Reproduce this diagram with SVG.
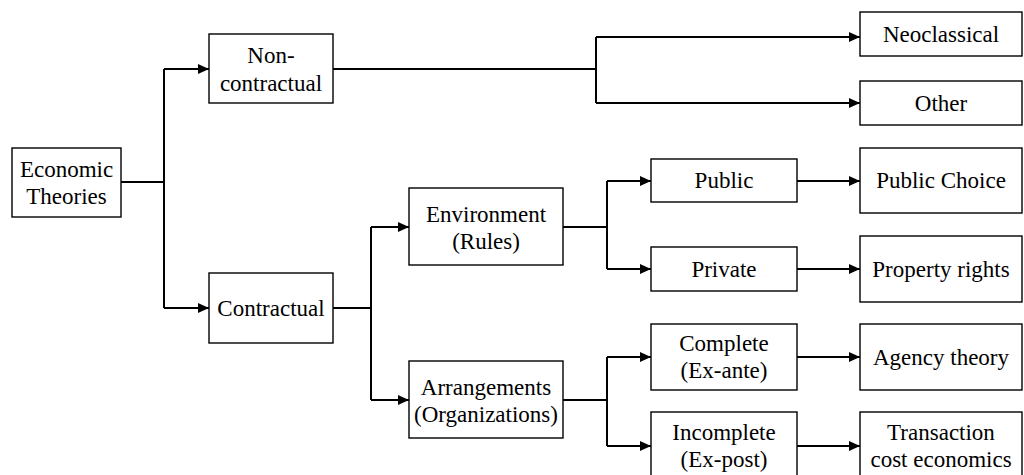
<svg xmlns="http://www.w3.org/2000/svg" width="1024" height="475" viewBox="0 0 1024 475">
<style>
.box{fill:#fff;stroke:#000;stroke-width:1.4}
.lbl{font-family:"Liberation Serif","Times New Roman",serif;font-size:23px;fill:#000;text-anchor:middle}
.ln{fill:none;stroke:#000;stroke-width:2}
.ar{marker-end:url(#ah)}
</style>
<defs>
<marker id="ah" markerUnits="userSpaceOnUse" markerWidth="12" markerHeight="10" refX="11" refY="5" orient="auto">
<path d="M0,0 L11,5 L0,10 z" fill="#000"/>
</marker>
</defs>
<rect width="1024" height="475" fill="#fff"/>
<g id="connectors">
<path class="ln" d="M121,182 H164 M164,69 V308"/>
<path class="ln ar" d="M164,69 H209"/>
<path class="ln ar" d="M164,308 H209"/>
<path class="ln" d="M333,69 H596 M596,37 V103"/>
<path class="ln ar" d="M596,37 H860"/>
<path class="ln ar" d="M596,103 H860"/>
<path class="ln" d="M333,308 H371 M371,227 V400"/>
<path class="ln ar" d="M371,227 H409"/>
<path class="ln ar" d="M371,400 H409"/>
<path class="ln" d="M563,227 H607 M607,181 V269"/>
<path class="ln ar" d="M607,181 H651"/>
<path class="ln ar" d="M607,269 H651"/>
<path class="ln" d="M563,400 H607 M607,357 V446"/>
<path class="ln ar" d="M607,357 H651"/>
<path class="ln ar" d="M607,446 H651"/>
<path class="ln ar" d="M797,181 H860"/>
<path class="ln ar" d="M797,269 H860"/>
<path class="ln ar" d="M797,357 H860"/>
<path class="ln ar" d="M797,446 H860"/>
</g>
<g id="economic-theories"><rect class="box" x="12" y="148" width="109" height="69"/><text class="lbl" x="66.5" y="177">Economic</text><text class="lbl" x="66.5" y="204">Theories</text></g>
<g id="non-contractual"><rect class="box" x="209" y="34" width="124" height="69"/><text class="lbl" x="271" y="63">Non-</text><text class="lbl" x="271" y="91">contractual</text></g>
<g id="contractual"><rect class="box" x="209" y="273" width="124" height="70"/><text class="lbl" x="271" y="316">Contractual</text></g>
<g id="environment"><rect class="box" x="409" y="188" width="154" height="77"/><text class="lbl" x="486" y="222">Environment</text><text class="lbl" x="486" y="249">(Rules)</text></g>
<g id="arrangements"><rect class="box" x="409" y="361" width="154" height="77"/><text class="lbl" x="486" y="395">Arrangements</text><text class="lbl" x="486" y="422">(Organizations)</text></g>
<g id="neoclassical"><rect class="box" x="860" y="12" width="162" height="44"/><text class="lbl" x="941" y="42">Neoclassical</text></g>
<g id="other"><rect class="box" x="860" y="81" width="162" height="44"/><text class="lbl" x="941" y="111">Other</text></g>
<g id="public"><rect class="box" x="651" y="159" width="146" height="43"/><text class="lbl" x="724" y="188">Public</text></g>
<g id="private"><rect class="box" x="651" y="247" width="146" height="44"/><text class="lbl" x="724" y="277">Private</text></g>
<g id="complete"><rect class="box" x="651" y="324" width="146" height="66"/><text class="lbl" x="724" y="351">Complete</text><text class="lbl" x="724" y="378">(Ex-ante)</text></g>
<g id="incomplete"><rect class="box" x="651" y="412" width="146" height="68"/><text class="lbl" x="724" y="440">Incomplete</text><text class="lbl" x="724" y="467">(Ex-post)</text></g>
<g id="public-choice"><rect class="box" x="860" y="148" width="162" height="65"/><text class="lbl" x="941" y="188">Public Choice</text></g>
<g id="property-rights"><rect class="box" x="860" y="236" width="162" height="66"/><text class="lbl" x="941" y="277">Property rights</text></g>
<g id="agency-theory"><rect class="box" x="860" y="324" width="162" height="66"/><text class="lbl" x="941" y="365">Agency theory</text></g>
<g id="transaction"><rect class="box" x="860" y="412" width="162" height="68"/><text class="lbl" x="941" y="440">Transaction</text><text class="lbl" x="941" y="467">cost economics</text></g>
</svg>
